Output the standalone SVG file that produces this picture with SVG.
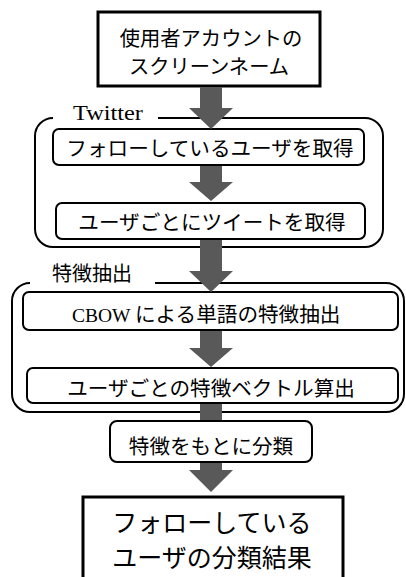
<svg xmlns="http://www.w3.org/2000/svg" width="406" height="577" viewBox="0 0 406 577">
<style>
.jp{font-family:"Noto Sans CJK JP","Noto Sans",sans-serif;fill:#000;text-anchor:middle}
.serif{font-family:"Liberation Serif",serif;fill:#000}
.thick{fill:#fff;stroke:#000;stroke-width:3}
.box{fill:#fff;stroke:#000;stroke-width:2}
.grp{fill:none;stroke:#000;stroke-width:2}
.arr{fill:#595959;stroke:none}
</style>
<rect width="406" height="577" fill="#fff"/>
<g id="group-twitter">
<path class="grp" d="M158,118 H365 A18,18 0 0 1 383,136 V229 A18,18 0 0 1 365,247 H53 A18,18 0 0 1 35,229 V136 A18,18 0 0 1 53,118"/>
<text class="serif" x="73" y="120" font-size="21" textLength="70" lengthAdjust="spacingAndGlyphs">Twitter</text>
</g>
<g id="group-feature">
<path class="grp" d="M155,283 H386 A18,18 0 0 1 404,301 V394 A18,18 0 0 1 386,412 H30 A18,18 0 0 1 12,394 V301 A18,18 0 0 1 30,283"/>
<text class="jp" x="92" y="280.5" font-size="20">特徴抽出</text>
</g>
<g id="node-start">
<rect class="thick" x="98" y="12" width="222" height="74"/>
<text class="jp" font-size="20.3"><tspan x="211" y="45.5">使用者アカウントの</tspan><tspan x="209" y="74">スクリーンネーム</tspan></text>
</g>
<g id="node-follow">
<rect class="box" x="53" y="129" width="311" height="36" rx="6"/>
<text class="jp" x="210" y="156" font-size="20.6">フォローしているユーザを取得</text>
</g>
<g id="node-tweets">
<rect class="box" x="56" y="203" width="309" height="36" rx="6"/>
<text class="jp" x="212" y="230" font-size="20.6">ユーザごとにツイートを取得</text>
</g>
<g id="node-cbow">
<rect class="box" x="23" y="292" width="375" height="38" rx="6"/>
<text class="jp" x="72" y="322" font-size="20.6" style="text-anchor:start"><tspan font-family="Liberation Serif, serif" font-size="19.5">CBOW </tspan>による単語の特徴抽出</text>
</g>
<g id="node-vector">
<rect class="box" x="27" y="368" width="371" height="35" rx="6"/>
<text class="jp" x="211" y="396" font-size="20.6">ユーザごとの特徴ベクトル算出</text>
</g>
<g id="connectors">
<polygon class="arr" points="200,87 222,87 222,108 233,108 211,129 189,108 200,108"/>
<polygon class="arr" points="200,166 222,166 222,182 233,182 211,201 189,182 200,182"/>
<polygon class="arr" points="200,240 222,240 222,271 233,271 211,292 189,271 200,271"/>
<polygon class="arr" points="200,331 222,331 222,348 233,348 211,367 189,348 200,348"/>
<rect class="arr" x="200" y="404" width="22" height="18"/>
<polygon class="arr" points="200,463 222,463 222,470 233,470 211,492 189,470 200,470"/>
</g>
<g id="node-classify">
<rect class="box" x="110" y="421" width="202" height="41" rx="7"/>
<text class="jp" x="211" y="453.5" font-size="20.6">特徴をもとに分類</text>
</g>
<g id="node-result">
<rect class="thick" x="83" y="497" width="260" height="90"/>
<text class="jp" font-size="25"><tspan x="212" y="532">フォローしている</tspan><tspan x="212" y="566.5">ユーザの分類結果</tspan></text>
</g>
</svg>
